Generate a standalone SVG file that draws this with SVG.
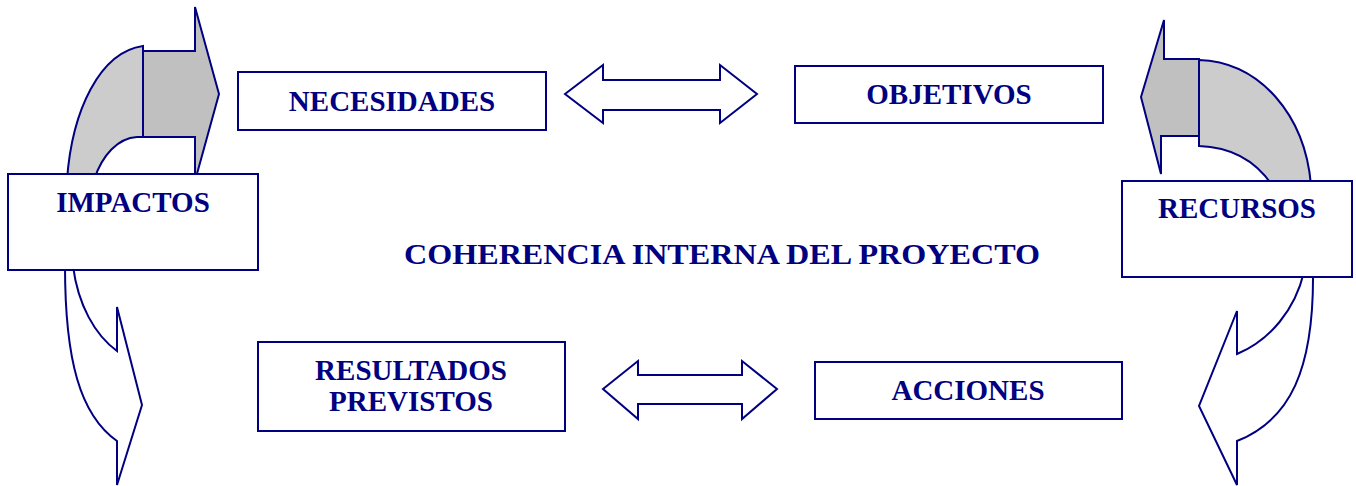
<svg xmlns="http://www.w3.org/2000/svg" width="1356" height="486" viewBox="0 0 1356 486">
<style>
.ln{stroke:#000080;stroke-width:2;stroke-linejoin:miter}
.box{fill:#ffffff;stroke:#000080;stroke-width:2}
.lt{fill:#cccccc}
.dk{fill:#c0c0c0}
.wh{fill:#ffffff}
.lbl{font-family:"Liberation Serif","Times New Roman",serif;font-weight:bold;font-size:29px;fill:#000080;text-anchor:middle}
</style>
<rect width="1356" height="486" fill="#ffffff"/>
<g id="connectors">
  <!-- top-left curved arrow -->
  <path class="ln lt" d="M143,46 C100,52 72,110 67,180 L94,180 C102,155 118,138 137,137 L143,137 Z"/>
  <path class="ln dk" d="M143,51 L195,51 L195,7 L219,94 L195,181 L195,137 L143,137 Z"/>
  <!-- top-right curved arrow -->
  <path class="ln lt" d="M1199,60 C1260,62 1305,115 1311,185 L1272,185 C1255,160 1230,147 1199,146 Z"/>
  <path class="ln dk" d="M1199,59 L1164,59 L1164,20 L1141,97 L1161,174 L1161,136 L1199,136 Z"/>
  <!-- bottom-left curved arrow -->
  <path class="ln wh" d="M73,266 C78,305 95,335 117,351 L117,307 L142,405 L117,485 L117,441 C80,415 65,360 65,266 Z"/>
  <!-- bottom-right curved arrow -->
  <path class="ln wh" d="M1304,272 C1295,310 1270,340 1237,354 L1237,311 L1199,406 L1237,485 L1237,441 C1290,420 1314,370 1313,272 Z"/>
  <!-- double arrows -->
  <path class="ln wh" d="M565,94 L603,65 L603,80 L720,80 L720,65 L757,94 L720,123 L720,110 L603,110 L603,123 Z"/>
  <path class="ln wh" d="M603,389 L638,361 L638,375 L742,375 L742,361 L777,389 L742,419 L742,404 L638,404 L638,419 Z"/>
</g>
<g id="impactos">
  <rect class="box" x="8" y="174" width="250" height="96"/>
  <text class="lbl" x="133" y="212">IMPACTOS</text>
</g>
<g id="recursos">
  <rect class="box" x="1122" y="181" width="230" height="96"/>
  <text class="lbl" x="1237" y="218">RECURSOS</text>
</g>
<g id="necesidades">
  <rect class="box" x="238" y="72" width="308" height="58"/>
  <text class="lbl" x="392" y="111">NECESIDADES</text>
</g>
<g id="objetivos">
  <rect class="box" x="795" y="66" width="308" height="57"/>
  <text class="lbl" x="949" y="104">OBJETIVOS</text>
</g>
<g id="resultados">
  <rect class="box" x="258" y="342" width="307" height="89"/>
  <text class="lbl" x="411" y="380">RESULTADOS</text>
  <text class="lbl" x="411" y="411">PREVISTOS</text>
</g>
<g id="acciones">
  <rect class="box" x="815" y="362" width="307" height="57"/>
  <text class="lbl" x="968" y="400">ACCIONES</text>
</g>
<g id="title">
  <text class="lbl" x="722" y="264" font-size="40" textLength="636" lengthAdjust="spacingAndGlyphs">COHERENCIA INTERNA DEL PROYECTO</text>
</g>
</svg>
